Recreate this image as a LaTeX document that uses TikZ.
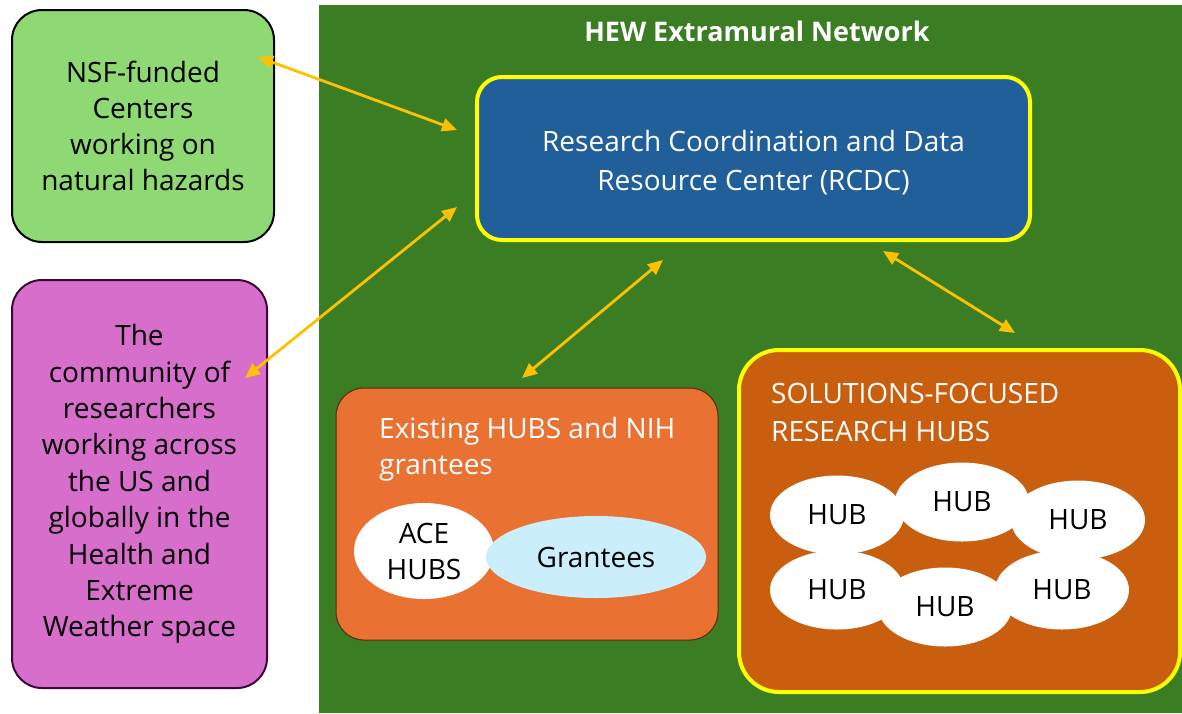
\documentclass[tikz,border=0pt]{standalone}
\usepackage{fontspec}
\setmainfont{Open Sans}
\usetikzlibrary{
  shapes.geometric,
  positioning,
  arrows.meta
}
\definecolor{hewgreen}{HTML}{3B7D23}
\definecolor{nsfgreen}{HTML}{8ED973}
\definecolor{commpink}{HTML}{D86ECC}
\definecolor{commedge}{HTML}{3B0B36}
\definecolor{rcdcblue}{HTML}{215F9A}
\definecolor{hubyellow}{HTML}{FFFF00}
\definecolor{existorange}{HTML}{E97132}
\definecolor{existedge}{HTML}{5A2A0E}
\definecolor{solorange}{HTML}{CA5E0F}
\definecolor{grantblue}{HTML}{CAEEFB}
\definecolor{linkgold}{HTML}{FFC000}
\tikzset{
  >={Triangle[length=15pt,width=13pt]},
  txt/.style={font=\fontsize{28}{36}\selectfont, align=center, inner sep=0pt},
  panel/.style={draw, rounded corners=30pt, inner sep=0pt},
  blob/.style={ellipse, fill=white, inner sep=0pt,
    font=\fontsize{28}{36}\selectfont},
  link/.style={<->, linkgold, line width=2.8pt}
}

\begin{document}
\begin{tikzpicture}[x=1pt,y=-1pt]
\useasboundingbox (0,0) rectangle (1182,713);
\fill[hewgreen] (319,5) rectangle (1182,713);
\node[txt, text=white, font=\fontsize{27}{36}\selectfont\bfseries]
  (title) at (757,31) {HEW Extramural Network};

% outside partners
\node[panel, fill=nsfgreen, line width=2pt, minimum width=262pt,
  minimum height=232pt, txt] (nsf) at (143,126)
  {NSF-funded\\Centers\\working on\\natural hazards};
\node[panel, fill=commpink, draw=commedge, line width=2pt,
  minimum width=255pt, minimum height=408pt, txt,
  font=\fontsize{28}{36.4}\selectfont] (comm) at (139.5,484)
  {The\\community of\\researchers\\working across\\the US and\\globally in the\\Health and\\Extreme\\Weather space};

% coordination center
\node[panel, fill=rcdcblue, draw=hubyellow, line width=4pt,
  rounded corners=25pt, minimum width=553pt, minimum height=163pt]
  (rcdc) at (753.5,158.5) {};
\node[txt, text=white, font=\fontsize{28}{39}\selectfont] (rcdclbl)
  at (753.5,163) {Research Coordination and Data\\Resource Center (RCDC)};

% existing hubs
\node[panel, fill=existorange, draw=existedge, line width=1pt,
  rounded corners=28pt, minimum width=382pt, minimum height=252pt]
  (exist) at (527,514) {};
\node[txt, align=left, text=white, anchor=north west] (existlbl)
  at (379,417) {Existing HUBS and NIH\\grantees};
\node[blob, minimum width=140pt, minimum height=96pt] (ace) at (424,551)
  {};
\node[txt] at (ace) {ACE\\HUBS};
\node[blob, fill=grantblue, minimum width=220pt, minimum height=82pt]
  (grant) at (596,557) {Grantees};

% solutions hubs
\node[panel, fill=solorange, draw=hubyellow, line width=4pt,
  rounded corners=40pt, minimum width=441pt, minimum height=342pt]
  (sol) at (959.5,521) {};
\node[txt, align=left, text=white, anchor=north west, font=\fontsize{28}{38}\selectfont]
  (sollbl) at (771,383) {SOLUTIONS-FOCUSED\\RESEARCH HUBS};
\foreach \k/\x/\y in {1/837/515, 2/962/502, 3/1078/520,
                      4/837/590, 5/945/607, 6/1062/590} {
  \node[blob, minimum width=134pt, minimum height=79pt]
    (hub\k) at (\x,\y) {HUB};
}

% links
\coordinate (l1a) at (258,57);
\coordinate (l1b) at (457,130);
\coordinate (l2a) at (245,378);
\coordinate (l2b) at (457,207);
\coordinate (l3a) at (522,378);
\coordinate (l3b) at (663,260);
\coordinate (l4a) at (883,251);
\coordinate (l4b) at (1015,333);
\foreach \a/\b in {l1a/l1b, l2a/l2b, l3a/l3b, l4a/l4b}
  \draw[link] (\a) -- (\b);
\end{tikzpicture}
\end{document}
